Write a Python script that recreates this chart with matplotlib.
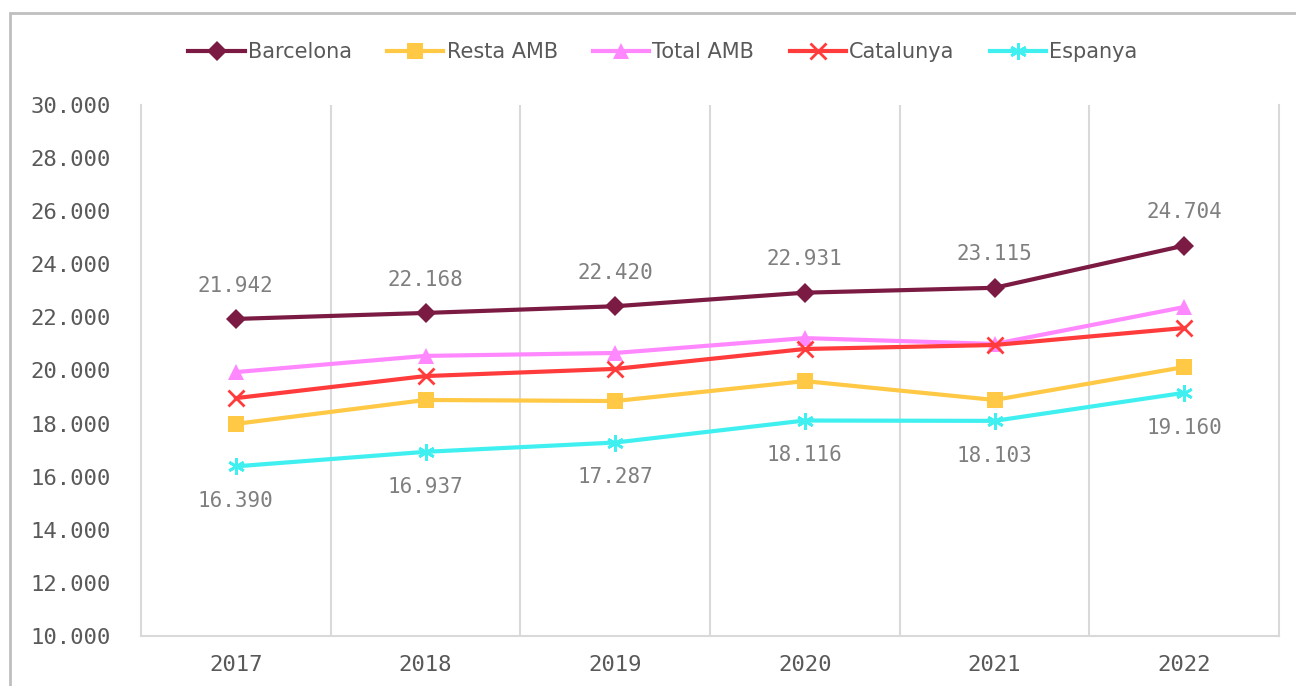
import numpy as np
import matplotlib.pyplot as plt
from matplotlib.patches import Rectangle

years = ['2017', '2018', '2019', '2020', '2021', '2022']
barcelona = [21942, 22168, 22420, 22931, 23115, 24704]
resta_amb = [17990, 18890, 18850, 19600, 18890, 20130]
total_amb = [19940, 20550, 20660, 21220, 21000, 22390]
catalunya = [18960, 19790, 20060, 20810, 20960, 21600]
espanya = [16390, 16937, 17287, 18116, 18103, 19160]

def fmt(v):
    return f"{v:,}".replace(',', '.')

legend_font = ['Liberation Sans Narrow', 'DejaVu Sans']
mono = 'DejaVu Sans Mono'

fig = plt.figure(figsize=(12.96, 6.86), dpi=100)
ax = fig.add_axes([141/1296, 50/686, (1279-141)/1296, (636-105)/686])

# outer chart border
fig.patches.append(Rectangle((10/1296, -0.1), 1.2, (686-13)/686 + 0.1,
                             transform=fig.transFigure, fill=False,
                             edgecolor='#bfbfbf', lw=2))

x = np.arange(len(years))
series = [
    ('Barcelona', barcelona, '#7b1a42', 'D', 10),
    ('Resta AMB', resta_amb, '#ffc845', 's', 12),
    ('Total AMB', total_amb, '#ff88ff', '^', 12),
    ('Catalunya', catalunya, '#ff3b3b', 'x', 11),
    ('Espanya', espanya, '#40f0f0', (6, 2, 0), 12),
]
for name, vals, col, mk, ms in series:
    ax.plot(x, vals, color=col, lw=3, marker=mk, markersize=ms,
            markeredgewidth=2 if mk in ('x',) or isinstance(mk, tuple) else 0,
            markeredgecolor=col, label=name)

for i, v in enumerate(barcelona):
    ax.annotate(fmt(v), (x[i], v), xytext=(0, 24), textcoords='offset points',
                ha='center', va='center', fontsize=15, family=mono, color='#7f7f7f')
for i, v in enumerate(espanya):
    ax.annotate(fmt(v), (x[i], v), xytext=(0, -25), textcoords='offset points',
                ha='center', va='center', fontsize=15, family=mono, color='#7f7f7f')

ax.set_xlim(-0.5, 5.5)
ax.set_ylim(10000, 30000)
ax.set_yticks(np.arange(10000, 30001, 2000))
ax.set_yticklabels([fmt(v) for v in np.arange(10000, 30001, 2000)])
ax.set_xticks(x)
ax.set_xticklabels(years)
for xv in np.arange(0.5, 5.5, 1):
    ax.axvline(xv, color='#d9d9d9', lw=1.5, zorder=0)

ax.tick_params(length=0)
ax.tick_params(axis='y', pad=22)
ax.tick_params(axis='x', pad=14)
for lab in ax.get_yticklabels() + ax.get_xticklabels():
    lab.set_family(mono)
    lab.set_fontsize(16)
    lab.set_color('#595959')

ax.spines['top'].set_visible(False)
for s in ['left', 'right', 'bottom']:
    ax.spines[s].set_color('#d9d9d9')
    ax.spines[s].set_linewidth(1.5)

leg = fig.legend(loc='center', bbox_to_anchor=(663/1296, 1 - 52/686), ncol=5,
                 frameon=False, handlelength=2.7, columnspacing=1.7, handletextpad=0.15,
                 prop={'family': legend_font, 'size': 15})
for t in leg.get_texts():
    t.set_color('#595959')

fig.savefig('out.png', dpi=100)
